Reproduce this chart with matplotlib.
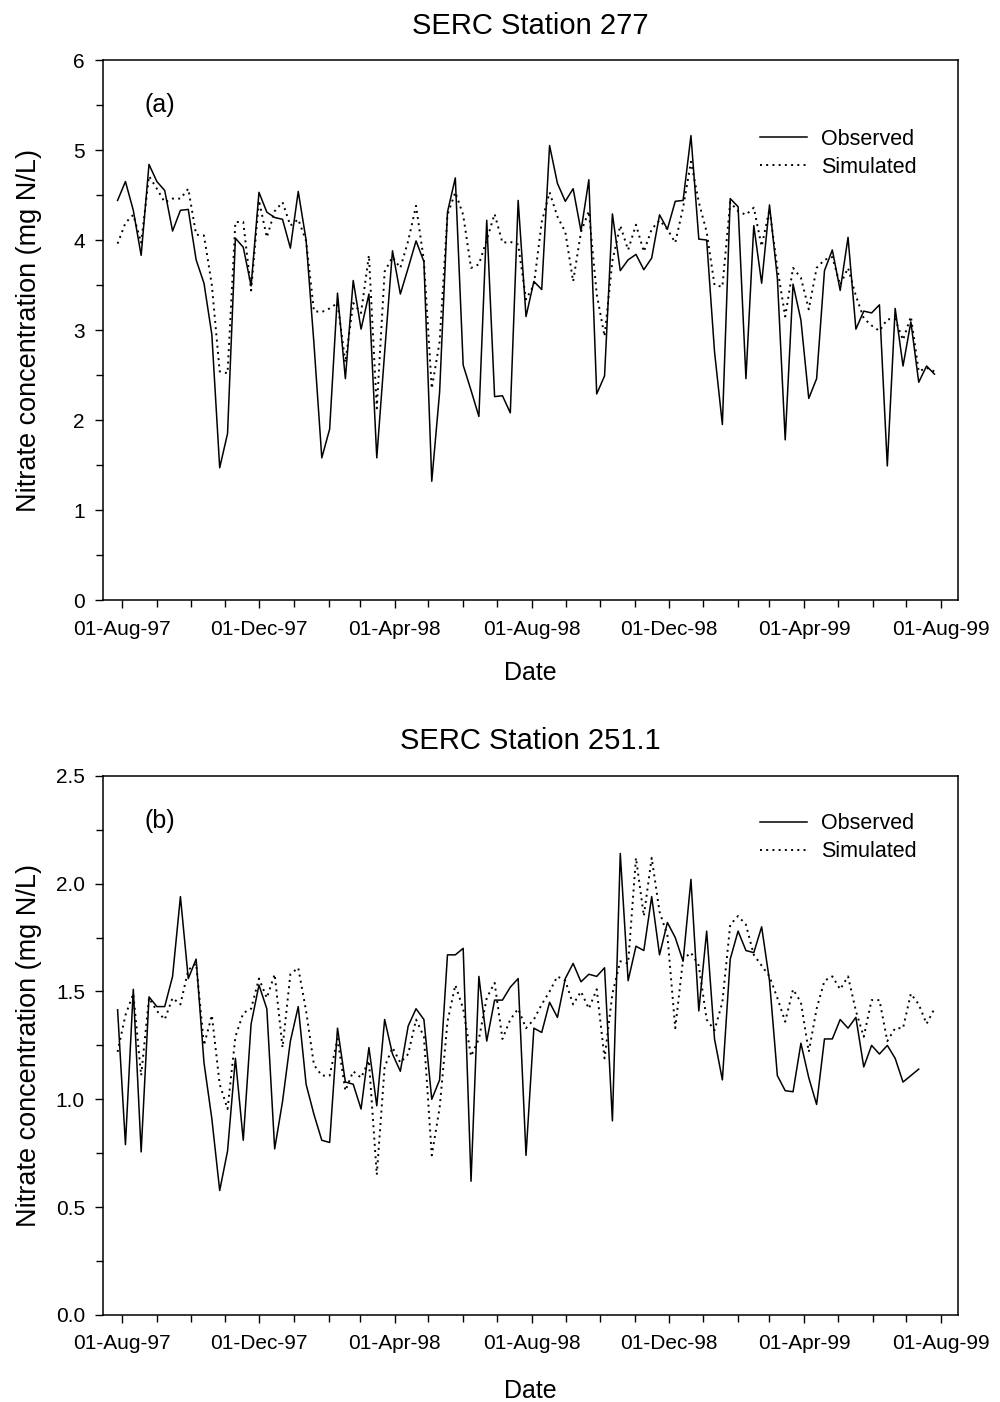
import matplotlib
matplotlib.use("Agg")
import matplotlib.pyplot as plt
import matplotlib.dates as mdates
from matplotlib.lines import Line2D
from matplotlib.ticker import MultipleLocator
import numpy as np
import pandas as pd

plt.rcParams["font.family"] = ["Liberation Sans", "DejaVu Sans"]

# weekly sampling dates
start_date = "1997-07-28"
n_weeks = 105
dates = pd.date_range(start_date, periods=n_weeks, freq="7D")

# SERC Station 277
obs_277 = [4.44, 4.65, 4.33, 3.83, 4.84, 4.65, 4.55, 4.10, 4.33, 4.34, 3.78, 3.52, 2.95, 1.47, 1.85,
           4.02, 3.92, 3.49, 4.53, 4.31, 4.25, 4.23, 3.91, 4.54, 4.00, 2.85, 1.58,
           1.90, 3.41, 2.46, 3.55, 3.01, 3.40, 1.58, 2.75, 3.88, 3.40, 3.69, 3.99, 3.76, 1.32,
           2.31, 4.31, 4.69, 2.61, 2.33, 2.04, 4.22, 2.26, 2.27, 2.08, 4.44, 3.15, 3.54, 3.45,
           5.05, 4.63, 4.43, 4.57, 4.10, 4.67, 2.29, 2.49, 4.29, 3.66, 3.78, 3.84, 3.67, 3.80,
           4.28, 4.12, 4.43, 4.44, 5.16, 4.01, 4.00, 2.76, 1.95, 4.46, 4.37, 2.46, 4.16, 3.52,
           4.39, 3.58, 1.78, 3.51, 3.11, 2.24, 2.46, 3.66, 3.89, 3.44, 4.03, 3.01, 3.21, 3.19,
           3.28, 1.49, 3.24, 2.60, 3.09, 2.42, 2.60, 2.51]
sim_277 = [3.96, 4.19, 4.28, 3.97, 4.71, 4.57, 4.42, 4.46, 4.46, 4.57, 4.06, 4.05, 3.50, 2.54, 2.52,
           4.20, 4.20, 3.44, 4.44, 4.03, 4.32, 4.42, 4.16, 4.23, 3.99, 3.21, 3.20,
           3.24, 3.30, 2.64, 3.30, 3.19, 3.83, 2.13, 3.65, 3.81, 3.69, 3.99, 4.38, 3.77, 2.35,
           2.87, 4.28, 4.53, 4.28, 3.69, 3.73, 4.00, 4.29, 3.97, 3.98, 3.95, 3.34, 3.50, 4.20,
           4.53, 4.26, 4.09, 3.54, 4.09, 4.32, 3.40, 2.93, 3.77, 4.16, 3.89, 4.17, 3.87, 4.12,
           4.22, 4.12, 3.97, 4.36, 4.87, 4.42, 4.09, 3.50, 3.48, 4.42, 4.32, 4.28, 4.36, 3.93,
           4.34, 3.69, 3.15, 3.69, 3.58, 3.23, 3.69, 3.78, 3.81, 3.50, 3.69, 3.38, 3.13, 3.05,
           2.99, 3.12, 3.12, 2.89, 3.15, 2.54, 2.58, 2.54]

# SERC Station 251.1
obs_251 = [1.415, 0.79, 1.51, 0.756, 1.475, 1.43, 1.43, 1.57, 1.94, 1.56, 1.65, 1.17, 0.91, 0.577,
           0.76, 1.19, 0.81, 1.35, 1.53, 1.42, 0.77, 0.99, 1.27, 1.43, 1.07, 0.93, 0.81,
           0.80, 1.33, 1.08, 1.07, 0.955, 1.24, 0.97, 1.37, 1.21, 1.13, 1.34, 1.42, 1.37, 1.00,
           1.09, 1.67, 1.67, 1.70, 0.62, 1.57, 1.27, 1.46, 1.46, 1.52, 1.56, 0.74, 1.33, 1.31,
           1.45, 1.38, 1.56, 1.63, 1.545, 1.58, 1.57, 1.61, 0.90, 2.14, 1.55, 1.71, 1.69, 1.94,
           1.67, 1.82, 1.75, 1.64, 2.02, 1.41, 1.78, 1.28, 1.09, 1.65, 1.78, 1.69, 1.68, 1.80,
           1.55, 1.11, 1.04, 1.035, 1.26, 1.10, 0.976, 1.28, 1.28, 1.37, 1.33, 1.38, 1.15, 1.25,
           1.21, 1.25, 1.19, 1.08, 1.11, 1.14, np.nan, np.nan]
sim_251 = [1.22, 1.39, 1.49, 1.11, 1.47, 1.41, 1.37, 1.47, 1.44, 1.60, 1.63, 1.25, 1.39, 1.07,
           0.955, 1.29, 1.40, 1.42, 1.56, 1.47, 1.58, 1.24, 1.58, 1.61, 1.41, 1.16, 1.11,
           1.11, 1.28, 1.04, 1.13, 1.10, 1.18, 0.65, 1.15, 1.24, 1.17, 1.21, 1.37, 1.29, 0.74,
           0.96, 1.36, 1.53, 1.42, 1.20, 1.28, 1.47, 1.54, 1.28, 1.37, 1.42, 1.33, 1.37, 1.44,
           1.50, 1.57, 1.55, 1.44, 1.50, 1.42, 1.51, 1.19, 1.49, 1.64, 1.63, 2.12, 1.85, 2.12,
           1.87, 1.76, 1.33, 1.65, 1.68, 1.62, 1.37, 1.32, 1.45, 1.81, 1.85, 1.81, 1.67, 1.62,
           1.57, 1.47, 1.36, 1.51, 1.45, 1.22, 1.42, 1.55, 1.57, 1.51, 1.57, 1.41, 1.29, 1.46,
           1.46, 1.27, 1.33, 1.33, 1.49, 1.44, 1.35, 1.42]

DOT = (0, (1, 2.2))


def draw_panel(ax, obs, sim, title, tag, ymax, ymajor, yminor, yfmt, leg_y, xlab_y):
    ax.plot(dates, obs, color="black", lw=1.1, ls="-")
    ax.plot(dates, sim, color="black", lw=1.4, ls=DOT)
    ax.set_xlim(pd.Timestamp("1997-07-15"), pd.Timestamp("1999-08-16"))
    ax.set_ylim(0, ymax)
    ax.xaxis.set_major_locator(mdates.MonthLocator(bymonth=[4, 8, 12], bymonthday=1))
    ax.xaxis.set_minor_locator(mdates.MonthLocator(bymonthday=1))
    ax.xaxis.set_major_formatter(mdates.DateFormatter("%d-%b-%y"))
    ax.yaxis.set_major_locator(MultipleLocator(ymajor))
    ax.yaxis.set_minor_locator(MultipleLocator(yminor))
    ax.yaxis.set_major_formatter(plt.FormatStrFormatter(yfmt))
    ax.tick_params(which="major", direction="out", length=6, width=1, labelsize=15)
    ax.tick_params(axis="x", which="major", pad=8)
    ax.tick_params(axis="y", which="major", pad=7)
    ax.tick_params(which="minor", direction="out", length=5, width=1)
    for s in ax.spines.values():
        s.set_linewidth(1.1)
    ax.set_title(title, fontsize=21, pad=19)
    ax.set_xlabel("Date", fontsize=18)
    ax.xaxis.set_label_coords(0.5, xlab_y)
    ax.set_ylabel("Nitrate concentration (mg N/L)", fontsize=19.5)
    ax.yaxis.set_label_coords(-0.071, 0.5)
    ax.text(0.048, 0.917, tag, transform=ax.transAxes, fontsize=18, va="center")
    handles = [Line2D([], [], color="black", lw=1.1, ls="-"),
               Line2D([], [], color="black", lw=1.4, ls=DOT)]
    ax.legend(handles, ["Observed", "Simulated"], loc="upper left",
              bbox_to_anchor=(0.768, leg_y), frameon=False, fontsize=15.5,
              handlelength=2.2, handletextpad=0.65, labelspacing=0.34, borderpad=0,
              borderaxespad=0)


fig = plt.figure(figsize=(10, 14.02), dpi=100)
ax1 = fig.add_axes([0.103, 0.572, 0.855, 0.3852])
ax2 = fig.add_axes([0.103, 0.0621, 0.855, 0.3845])

draw_panel(ax1, obs_277, sim_277, "SERC Station 277", "(a)", 6, 1, 0.5, "%d", 0.873, -0.113)
draw_panel(ax2, obs_251, sim_251, "SERC Station 251.1", "(b)", 2.5, 0.5, 0.25, "%.1f", 0.931, -0.119)

fig.savefig("out.png", dpi=100)
